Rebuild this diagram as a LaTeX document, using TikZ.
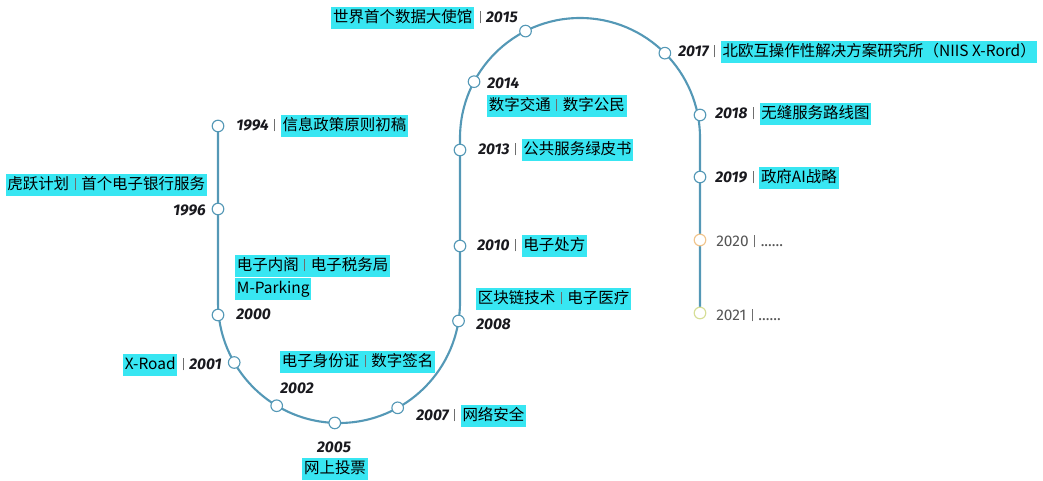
\documentclass[tikz,border=0pt]{standalone}
\usepackage{fontspec}
\setmainfont{Fira Sans}
\newfontfamily\cjk{Noto Sans CJK SC}
\usetikzlibrary{calc}
\definecolor{track}{RGB}{84,152,182}
\definecolor{hlcyan}{RGB}{56,230,242}
\definecolor{barcol}{RGB}{110,110,110}
\definecolor{yrcol}{RGB}{25,25,30}
\definecolor{dimtext}{RGB}{85,85,85}
\definecolor{dotorange}{RGB}{240,196,140}
\definecolor{dotlime}{RGB}{214,222,150}
\setlength{\fboxsep}{1.2pt}
\newcommand{\yr}[1]{{\color{yrcol}\bfseries\itshape #1}}
\newcommand{\hlt}[1]{\colorbox{hlcyan}{\cjk\rule[-3.2pt]{0pt}{13.2pt}#1}}
\newcommand{\vbar}{\hspace{4pt}{\color{barcol}\rule[-0.5pt]{0.6pt}{9pt}}\hspace{4pt}}

\begin{document}
\begin{tikzpicture}[x=0.025cm,y=-0.025cm,font=\fontsize{11}{13}\selectfont,
  dot/.style={circle,draw=track,fill=white,line width=0.8pt,minimum size=0.29cm,inner sep=0pt},
  lbl/.style={inner sep=0pt}]
\useasboundingbox (0,0) rectangle (1043,480);
\coordinate (lowc) at (339,302);
\coordinate (topc) at (580,138);
\draw[track,line width=1.5pt] (218,126) -- (218,302) arc[start angle=180,end angle=0,radius=121]
  -- (460,138) arc[start angle=180,end angle=360,radius=120] -- (700,313);
% dots along the track
\node[dot] (d1994) at (218,126) {};
\node[dot] (d1996) at (218,209) {};
\node[dot] (d2000) at (218,315) {};
\node[dot] (d2001) at ($(lowc)+(150:121)$) {};
\node[dot] (d2002) at ($(lowc)+(121:121)$) {};
\node[dot] (d2005) at ($(lowc)+(92:121)$) {};
\node[dot] (d2007) at ($(lowc)+(61:121)$) {};
\node[dot] (d2008) at ($(lowc)+(9:121)$) {};
\node[dot] (d2010) at (460,246) {};
\node[dot] (d2013) at (460,150) {};
\node[dot] (d2014) at ($(topc)+(208:120)$) {};
\node[dot] (d2015) at ($(topc)+(243:120)$) {};
\node[dot] (d2017) at ($(topc)+(315:120)$) {};
\node[dot] (d2018) at (700,115) {};
\node[dot] (d2019) at (700,177) {};
\node[dot,draw=dotorange] (d2020) at (700,240) {};
\node[dot,draw=dotlime] (d2021) at (700,313) {};
% labels
\node[lbl,anchor=west] (l1994) at (236,126) {\yr{1994}\vbar\hlt{信息政策原则初稿}};
\node[lbl,anchor=east] (t1996) at (207,185) {\hlt{虎跃计划\vbar 首个电子银行服务}};
\node[lbl,anchor=east] (l1996) at (206,210) {\yr{1996}};
\node[lbl,anchor=west] (t2000a) at (235,266) {\hlt{电子内阁\vbar 电子税务局}};
\node[lbl,anchor=west] (t2000b) at (235,289) {\hlt{M-Parking}};
\node[lbl,anchor=west] (l2000) at (236,314) {\yr{2000}};
\node[lbl,anchor=east] (l2001) at (222,365) {\hlt{X-Road}\vbar\yr{2001}};
\node[lbl,anchor=west] (t2002) at (280,362) {\hlt{电子身份证\vbar 数字签名}};
\node[lbl,anchor=west] (l2002) at (280,388) {\yr{2002}};
\node[lbl] (l2005) at (334,447) {\yr{2005}};
\node[lbl] (t2005) at (335,469) {\hlt{网上投票}};
\node[lbl,anchor=west] (l2007) at (416,416) {\yr{2007}\vbar\hlt{网络安全}};
\node[lbl,anchor=west] (t2008) at (476,299) {\hlt{区块链技术\vbar 电子医疗}};
\node[lbl,anchor=west] (l2008) at (476,324) {\yr{2008}};
\node[lbl,anchor=west] (l2010) at (477,246) {\yr{2010}\vbar\hlt{电子处方}};
\node[lbl,anchor=west] (l2013) at (478,150) {\yr{2013}\vbar\hlt{公共服务绿皮书}};
\node[lbl,anchor=west] (l2014) at (487,83) {\yr{2014}};
\node[lbl,anchor=west] (t2014) at (487,106) {\hlt{数字交通\vbar 数字公民}};
\node[lbl,anchor=east] (l2015) at (518,18) {\hlt{世界首个数据大使馆}\vbar\yr{2015}};
\node[lbl,anchor=west] (l2017) at (678,52) {\yr{2017}\vbar\hlt{北欧互操作性解决方案研究所（NIIS X-Rord）}};
\node[lbl,anchor=west] (l2018) at (715,114) {\yr{2018}\vbar\hlt{无缝服务路线图}};
\node[lbl,anchor=west] (l2019) at (715,178) {\yr{2019}\vbar\hlt{政府AI战略}};
\node[lbl,anchor=west,text=dimtext] (l2020) at (716,241) {2020\vbar......};
\node[lbl,anchor=west,text=dimtext] (l2021) at (716,315) {2021\vbar......};
\end{tikzpicture}
\end{document}
